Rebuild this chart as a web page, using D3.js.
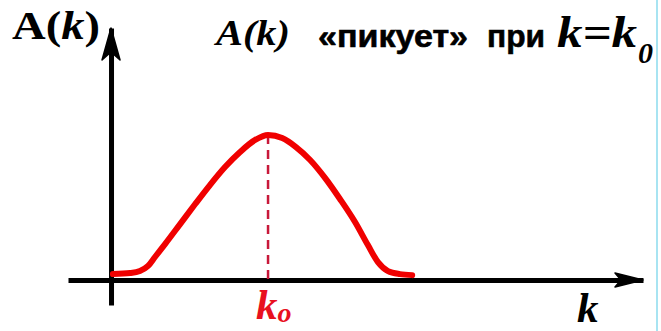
<!DOCTYPE html>
<html>
<head>
<meta charset="utf-8">
<script src="https://cdn.jsdelivr.net/npm/d3@7"></script>
<style>
  body { margin: 0; background: #fff; }
  svg { display: block; }
</style>
</head>
<body>
<svg width="661" height="331"></svg>
<script>
// wave-packet amplitude A(k), peak at k0 = 5
const kValues = [0.06, 0.61, 0.92, 1.18, 1.40, 1.72, 2.20, 2.68, 3.15, 3.63, 4.11, 4.59, 5.0, 5.45, 5.89, 6.34, 6.82, 7.29, 7.77, 8.18, 8.50, 8.82, 9.20, 9.59]
const aValues = [0.041, 0.048, 0.062, 0.097, 0.159, 0.248, 0.386, 0.524, 0.655, 0.779, 0.883, 0.966, 1.0, 0.979, 0.917, 0.828, 0.703, 0.559, 0.400, 0.241, 0.124, 0.062, 0.041, 0.034]
const k0 = 5
const kDomain = [-1.37, 16.94]
const aDomain = [-0.172, 1.738]

const data = kValues.map((k, i) => ({k: k, a: aValues[i]}))

const xScale = d3.scaleLinear().domain(kDomain).range([68, 643])
const yScale = d3.scaleLinear().domain(aDomain).range([305, 28])

const svg = d3.select('svg')

// right border of the slide
svg.append('line')
   .attr('x1', 657).attr('x2', 657).attr('y1', 0).attr('y2', 331)
   .attr('stroke', '#a8e4f2').attr('stroke-width', 2)

// axes
svg.append('g')
   .attr('transform', `translate(0,${yScale(0)})`)
   .call(d3.axisBottom(xScale).tickValues([]).tickSizeOuter(0))
svg.append('g')
   .attr('transform', `translate(${xScale(0)},0)`)
   .call(d3.axisLeft(yScale).tickValues([]).tickSizeOuter(0))
svg.selectAll('.domain').attr('stroke', '#000').attr('stroke-width', 5)

// arrow heads
const xEnd = xScale(kDomain[1]), y0 = yScale(0)
svg.append('path')
   .attr('d', `M${xEnd},${y0} L${xEnd - 28},${y0 - 7} L${xEnd - 22},${y0} L${xEnd - 28},${y0 + 7} Z`)
   .attr('fill', '#000').attr('stroke', '#000').attr('stroke-width', 1.5).attr('stroke-linejoin', 'round')
const yEnd = yScale(aDomain[1]), x0 = xScale(0)
svg.append('path')
   .attr('d', `M${x0},${yEnd} L${x0 - 9},${yEnd + 32} L${x0},${yEnd + 24} L${x0 + 9},${yEnd + 32} Z`)
   .attr('fill', '#000').attr('stroke', '#000').attr('stroke-width', 1.5).attr('stroke-linejoin', 'round')

// dashed line at k0
svg.append('line')
   .attr('x1', xScale(k0)).attr('x2', xScale(k0))
   .attr('y1', yScale(1)).attr('y2', yScale(0))
   .attr('stroke', '#c8183a').attr('stroke-width', 2.5)
   .attr('stroke-dasharray', '9,6')

// the curve
const line = d3.line()
   .x(d => xScale(d.k))
   .y(d => yScale(d.a))
   .curve(d3.curveMonotoneX)
svg.append('path')
   .datum(data)
   .attr('d', line)
   .attr('fill', 'none')
   .attr('stroke', '#f00000')
   .attr('stroke-width', 6)
   .attr('stroke-linejoin', 'round')
   .attr('stroke-linecap', 'round')

const serif = '"Liberation Serif", "Times New Roman", serif'
const sans = '"Liberation Sans", Arial, sans-serif'

// axis labels
const yLab = svg.append('text')
   .attr('x', 12).attr('y', 39)
   .attr('font-family', serif).attr('font-size', 40).attr('font-weight', 'bold')
   .attr('textLength', 88).attr('lengthAdjust', 'spacingAndGlyphs')
yLab.append('tspan').text('A(')
yLab.append('tspan').attr('font-style', 'italic').text('k')
yLab.append('tspan').text(')')

svg.append('text')
   .attr('x', 577).attr('y', 322)
   .attr('font-family', serif).attr('font-size', 43).attr('font-weight', 'bold').attr('font-style', 'italic')
   .text('k')

const kLab = svg.append('text')
   .attr('x', xScale(k0) - 12).attr('y', 319)
   .attr('font-family', serif).attr('font-size', 43).attr('font-weight', 'bold').attr('font-style', 'italic')
   .attr('fill', '#e8101e')
kLab.append('tspan').text('k')
kLab.append('tspan').attr('font-size', 28).attr('dy', 3).text('o')

// title
svg.append('text')
   .attr('x', 216).attr('y', 45)
   .attr('font-family', serif).attr('font-size', 36).attr('font-weight', 'bold').attr('font-style', 'italic')
   .attr('textLength', 74).attr('lengthAdjust', 'spacingAndGlyphs')
   .text('A(k)')
svg.append('text')
   .attr('x', 318).attr('y', 47)
   .attr('font-family', sans).attr('font-size', 32).attr('font-weight', 'bold')
   .attr('stroke', '#000').attr('stroke-width', 0.6)
   .attr('textLength', 150).attr('lengthAdjust', 'spacingAndGlyphs')
   .text('«пикует»')
svg.append('text')
   .attr('x', 487).attr('y', 47)
   .attr('font-family', sans).attr('font-size', 32).attr('font-weight', 'bold')
   .attr('stroke', '#000').attr('stroke-width', 0.6)
   .attr('textLength', 58).attr('lengthAdjust', 'spacingAndGlyphs')
   .text('при')
svg.append('text')
   .attr('x', 557).attr('y', 47)
   .attr('font-family', serif).attr('font-size', 44).attr('font-weight', 'bold').attr('font-style', 'italic')
   .attr('textLength', 80).attr('lengthAdjust', 'spacingAndGlyphs')
   .text('k=k')
svg.append('text')
   .attr('x', 638).attr('y', 63)
   .attr('font-family', serif).attr('font-size', 30).attr('font-weight', 'bold').attr('font-style', 'italic')
   .text('0')
</script>
</body>
</html>
